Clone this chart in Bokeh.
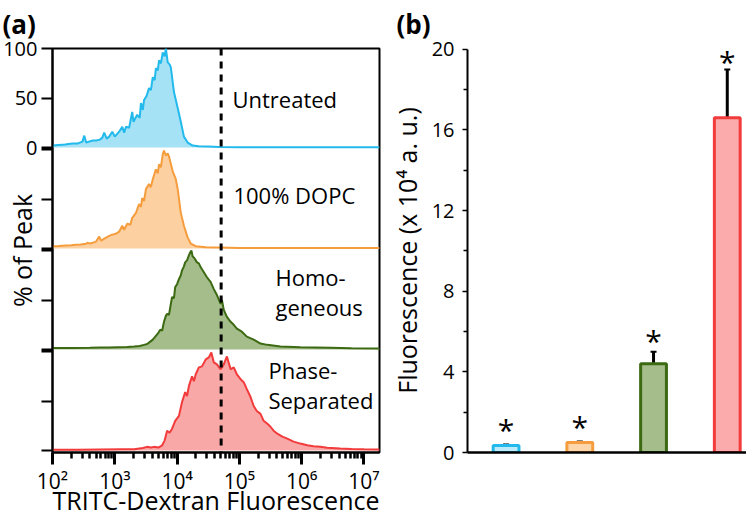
from bokeh.plotting import figure
from bokeh.models import (Range1d, FixedTicker, Span, Whisker, TeeHead, ColumnDataSource)
from bokeh.layouts import row
from bokeh.embed import file_html
from bokeh.resources import INLINE
from bokeh.core.properties import value

FONT = "Open Sans"

# ---------------- Panel (a) data: flow-cytometry histograms (log10 of fluorescence, % of peak)
untreated_lx = [2.00, 2.10, 2.20, 2.32, 2.40, 2.48, 2.51, 2.54, 2.59, 2.65, 2.70, 2.76, 2.80, 2.83, 2.87,
                2.91, 2.96, 3.00, 3.07, 3.12, 3.15, 3.18, 3.23, 3.28, 3.30, 3.36, 3.40, 3.42, 3.45, 3.47,
                3.51, 3.55, 3.58, 3.61, 3.64, 3.66, 3.69, 3.71, 3.74, 3.77, 3.80, 3.82, 3.85, 3.88, 3.90,
                3.95, 4.01, 4.06, 4.11, 4.17, 4.25, 4.35, 4.50, 4.68, 5.0, 5.5, 6.0, 6.5, 7.0, 7.25]
untreated_pct = [2, 2.5, 3, 4, 4, 6, 12, 5, 6, 7, 7, 8, 10, 15, 9,
                 11, 16, 11, 16, 21, 15, 21, 20, 36, 26, 33, 30, 45, 38, 48,
                 52, 60, 58, 71, 68, 80, 78, 88, 85, 96, 92, 100, 86, 84, 81,
                 56, 40, 26, 11, 5, 2, 1.3, 1, 0.6, 0.3, 0.3, 0.3, 0.3, 0.3, 0.3]

dopc_lx = [2.00, 2.10, 2.21, 2.30, 2.37, 2.45, 2.54, 2.56, 2.60, 2.65, 2.70, 2.75, 2.78, 2.86, 2.92,
           2.96, 3.02, 3.07, 3.12, 3.15, 3.20, 3.25, 3.28, 3.34, 3.39, 3.42, 3.44, 3.47, 3.50, 3.55,
           3.58, 3.61, 3.66, 3.69, 3.71, 3.74, 3.77, 3.79, 3.82, 3.85, 3.87, 3.93, 3.98, 4.01, 4.06,
           4.11, 4.17, 4.22, 4.30, 4.46, 4.68, 5.0, 5.5, 6.0, 6.5, 7.0, 7.25]
dopc_pct = [2.3, 2.5, 3, 3.2, 3.7, 4, 4.7, 6, 5, 6, 7, 12, 8, 11, 13,
            14, 15, 17, 23, 19, 25, 24, 31, 36, 45, 42, 51, 48, 60, 65,
            62, 70, 80, 76, 85, 82, 95, 99, 94, 96, 93, 78, 70, 60, 36,
            23, 11, 5, 2.3, 1.3, 1, 0.5, 0.5, 0.5, 0.5, 0.5, 0.5]

homog_lx = [2.00, 2.30, 2.60, 2.77, 2.90, 3.04, 3.20, 3.31, 3.40, 3.47, 3.52, 3.57, 3.61, 3.65, 3.69,
            3.73, 3.76, 3.79, 3.82, 3.84, 3.87, 3.90, 3.92, 3.95, 3.97, 4.00, 4.03, 4.06, 4.08, 4.11,
            4.13, 4.16, 4.19, 4.21, 4.23, 4.25, 4.27, 4.30, 4.32, 4.35, 4.38, 4.43, 4.48, 4.54, 4.59,
            4.64, 4.70, 4.72, 4.75, 4.80, 4.86, 4.91, 4.96, 5.04, 5.12, 5.23, 5.34, 5.45, 5.66, 5.98,
            6.46, 6.8, 7.25]
homog_pct = [1.5, 1.5, 1.8, 2, 2, 2.3, 2.5, 3, 3.5, 4.7, 5.5, 8, 10, 13, 16,
             20, 19, 28, 34, 36, 35, 46, 53, 52, 63, 66, 71, 75, 80, 84,
             88, 90, 95, 98, 100, 94, 93, 90, 88, 87, 83, 78, 73, 68, 61,
             55, 46, 50, 40, 33, 28, 25, 21, 18, 13, 10, 6, 4.7, 3, 2.3,
             1.7, 1.3, 1]

phase_lx = [2.00, 2.40, 2.77, 3.10, 3.31, 3.45, 3.52, 3.58, 3.63, 3.70, 3.76, 3.80, 3.84, 3.88, 3.92,
            3.97, 4.03, 4.08, 4.13, 4.16, 4.19, 4.24, 4.27, 4.30, 4.35, 4.40, 4.46, 4.51, 4.55, 4.59,
            4.64, 4.70, 4.75, 4.80, 4.86, 4.91, 4.96, 5.02, 5.07, 5.12, 5.18, 5.23, 5.28, 5.34, 5.39,
            5.45, 5.50, 5.55, 5.61, 5.69, 5.77, 5.87, 5.98, 6.09, 6.19, 6.30, 6.41, 6.62, 6.80, 7.00,
            7.25]
phase_pct = [0.7, 0.8, 1, 1.2, 1.3, 2.5, 3.7, 3, 3.7, 3, 5.3, 10, 20, 18, 22,
             30, 35, 49, 59, 55, 65, 75, 70, 77, 84, 85, 92, 94, 99, 89,
             87, 82, 87, 95, 82, 84, 77, 72, 69, 62, 54, 45, 40, 37, 30,
             27, 24, 20, 17, 14, 12, 9, 7, 5.3, 4.3, 3.7, 2.7, 2, 1.5, 1.2,
             1]

hist_labels = ["Untreated", "100% DOPC", "Homo-\ngeneous", "Phase-\nSeparated"]
threshold = 5.1e4
x_tick_exponents = [2, 3, 4, 5, 6, 7]
x_tick_labels = ["10²", "10³", "10⁴", "10⁵", "10⁶", "10⁷"]
pct_tick_values = [0, 50, 100]
pct_tick_labels = ["0", "50", "100"]

# ---------------- Panel (b) data
bar_groups = ["Untreated", "100% DOPC", "Homogeneous", "Phase-Separated"]
bar_mean = [0.35, 0.5, 4.4, 16.6]
bar_err = [0.05, 0.05, 0.6, 2.4]
star_y = [1.33, 1.47, 5.75, 19.57]
y_ticks_b = [0, 4, 8, 12, 16, 20]
y_minor_b = [2, 6, 10, 14, 18]

# ---------------- styles
line_cols = ["#22BAEC", "#F59D3D", "#3C6A12", "#F23B3B"]
fill_cols = ["#A6E2F6", "#FDD0A2", "#A5BC8B", "#F9A8A8"]
bar_fill = ["#BDEBFA", "#FDD6AC", "#A5BC8B", "#FBABAB"]
SLOT = 102
offsets = [3 * SLOT, 2 * SLOT, SLOT, 0]
H = 520
BT, BB = 47, 68   # shared top / bottom borders (frames aligned in the row)

p1 = figure(width=386, height=H, x_axis_type="log",
            x_range=Range1d(10 ** 2, 10 ** 7.25), y_range=Range1d(-2, 406),
            output_backend="svg", toolbar_location=None,
            min_border_left=52, min_border_right=7, min_border_top=BT, min_border_bottom=BB)
p1.grid.visible = False
p1.outline_line_color = "black"
p1.outline_line_width = 2
p1.outline_line_alpha = 1

series = [(untreated_lx, untreated_pct), (dopc_lx, dopc_pct), (homog_lx, homog_pct), (phase_lx, phase_pct)]
for i, (lx, pct) in enumerate(series):
    xs = [10 ** v for v in lx]
    base = [offsets[i]] * len(xs)
    top = [offsets[i] + v for v in pct]
    src = ColumnDataSource(dict(x=xs, base=base, top=top))
    p1.varea(x="x", y1="base", y2="top", source=src, fill_color=fill_cols[i], fill_alpha=1)
    p1.line(x="x", y="top", source=src, line_color=line_cols[i], line_width=2)

p1.add_layout(Span(location=threshold, dimension="height", line_color="black",
                   line_width=3, line_dash="7 6"))

# x axis
xax = p1.xaxis[0]
major = [10 ** e for e in x_tick_exponents]
minor = [k * 10 ** e for e in x_tick_exponents for k in range(2, 10) if k * 10 ** e <= 10 ** 7.25]
xax.ticker = FixedTicker(ticks=major, minor_ticks=minor)
xax.major_label_overrides = {m: lab for m, lab in zip(major, x_tick_labels)}
xax.major_tick_out = 12
xax.major_tick_in = 0
xax.minor_tick_out = 6
xax.minor_tick_in = 0
xax.major_tick_line_width = 3
xax.minor_tick_line_width = 2.5
xax.axis_line_width = 2
xax.major_label_text_font = FONT
xax.major_label_text_font_size = "21px"
xax.major_label_text_color = "black"
xax.major_label_standoff = 2
xax.axis_label = "TRITC-Dextran Fluorescence"
xax.axis_label_text_font = FONT
xax.axis_label_text_font_size = "25px"
xax.axis_label_text_font_style = "normal"
xax.axis_label_text_color = "black"
xax.axis_label_standoff = -15

# y axis (stacked panels)
yax = p1.yaxis[0]
yt = [off + v for off in offsets for v in pct_tick_values]
overrides = {t: "" for t in yt}
for v, lab in zip(pct_tick_values, pct_tick_labels):
    overrides[offsets[0] + v] = lab
yax.ticker = FixedTicker(ticks=yt)
yax.major_label_overrides = overrides
yax.major_tick_out = 11
yax.major_tick_in = 0
yax.minor_tick_line_color = None
yax.major_tick_line_width = 2
yax.axis_line_width = 2
yax.major_label_text_font = FONT
yax.major_label_text_font_size = "20px"
yax.major_label_text_color = "black"
yax.major_label_standoff = 4
yax.axis_label = "% of Peak"
yax.axis_label_text_font = FONT
yax.axis_label_text_font_size = "25px"
yax.axis_label_text_font_style = "normal"
yax.axis_label_text_color = "black"
yax.axis_label_standoff = -39

# histogram labels
lab_pos = [(10 ** 4.889, 355), (10 ** 4.905, 258), (10 ** 5.58, 160), (10 ** 5.467, 66)]
for (lx_, ly_), txt in zip(lab_pos, hist_labels):
    p1.text(x=[lx_], y=[ly_], text=[txt], text_font=value(FONT), text_font_size="22px",
            text_align="left", text_baseline="middle", text_line_height=1.0, text_color="black")

p1.title.text = "(a)"
p1.title.align = "left"
p1.title.offset = -50
p1.title.vertical_align = "top"
p1.title.text_font = FONT
p1.title.text_font_size = "26px"
p1.title.text_font_style = "bold"
p1.title.text_color = "black"
p1.title.standoff = 10

# ---------------- Panel (b)
idx = list(range(len(bar_groups)))
W2 = 360
p2 = figure(width=W2, height=H, x_range=Range1d(-0.523, -0.523 + (W2 - 80) / 74), y_range=Range1d(0, 20.04),
            output_backend="svg", toolbar_location=None,
            min_border_left=80, min_border_right=0, min_border_top=BT, min_border_bottom=BB)
p2.grid.visible = False
p2.outline_line_color = None

bsrc = ColumnDataSource(dict(x=idx, top=bar_mean, fill=bar_fill, line=line_cols,
                             upper=[m + e for m, e in zip(bar_mean, bar_err)],
                             lower=[m - e for m, e in zip(bar_mean, bar_err)],
                             star=star_y, s=["*"] * len(idx)))
p2.vbar(x="x", top="top", bottom=0, width=0.35, source=bsrc, fill_color="fill",
        line_color="line", line_width=3)
p2.add_layout(Whisker(source=bsrc, base="x", upper="upper", lower="lower",
                      line_color="black", line_width=3,
                      upper_head=TeeHead(size=6, line_width=2, line_color="black"),
                      lower_head=TeeHead(size=6, line_width=2, line_color="black")))
p2.text(x="x", y="star", text="s", source=bsrc, text_font=value(FONT), text_font_size="30px",
        text_align="center", text_baseline="alphabetic", y_offset=4, text_color="black")

bx = p2.xaxis[0]
bx.ticker = FixedTicker(ticks=[])
bx.axis_line_width = 2.5
bx.major_tick_line_color = None
bx.minor_tick_line_color = None

by = p2.yaxis[0]
by.ticker = FixedTicker(ticks=y_ticks_b, minor_ticks=y_minor_b)
by.bounds = (0, 20)
by.axis_line_width = 2
by.major_tick_out = 5
by.major_tick_in = 0
by.minor_tick_out = 4
by.minor_tick_in = 0
by.major_tick_line_width = 1.5
by.minor_tick_line_width = 1.5
by.major_label_text_font = FONT
by.major_label_text_font_size = "20px"
by.major_label_text_color = "black"
by.major_label_standoff = 8
by.axis_label = "Fluorescence (x 10⁴ a. u.)"
by.axis_label_text_font = FONT
by.axis_label_text_font_size = "25px"
by.axis_label_text_font_style = "normal"
by.axis_label_text_color = "black"
by.axis_label_standoff = 5

p2.title.text = "(b)"
p2.title.align = "left"
p2.title.offset = -71
p2.title.vertical_align = "top"
p2.title.text_font = FONT
p2.title.text_font_size = "26px"
p2.title.text_font_style = "bold"
p2.title.text_color = "black"
p2.title.standoff = 10

layout = row(p1, p2)
open("out.html", "w").write(file_html(layout, INLINE))
